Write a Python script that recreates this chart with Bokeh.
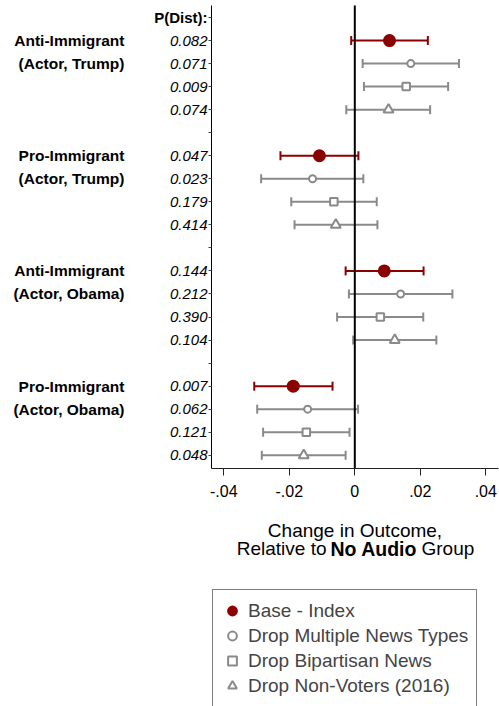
from bokeh.plotting import figure
from bokeh.models import (Range1d, FixedTicker, Label, Whisker, TeeHead,
                          ColumnDataSource, Legend, LegendItem)
from bokeh.embed import file_html
from bokeh.resources import INLINE

# ---------------- data ----------------
group_line1 = ["Anti-Immigrant", "Pro-Immigrant", "Anti-Immigrant", "Pro-Immigrant"]
group_line2 = ["(Actor, Trump)", "(Actor, Trump)", "(Actor, Obama)", "(Actor, Obama)"]
series_names = ["Base - Index", "Drop Multiple News Types",
                "Drop Bipartisan News", "Drop Non-Voters (2016)"]

# P(Dist) per group (rows) and series (columns)
p_dist = [
    ["0.082", "0.071", "0.009", "0.074"],
    ["0.047", "0.023", "0.179", "0.414"],
    ["0.144", "0.212", "0.390", "0.104"],
    ["0.007", "0.062", "0.121", "0.048"],
]

# estimates and confidence bounds per series, across the four groups
est_base = [0.0106, -0.0108, 0.0090, -0.0188]
lo_base = [-0.0011, -0.0227, -0.0028, -0.0307]
hi_base = [0.0223, 0.0011, 0.0210, -0.0068]

est_multi = [0.0171, -0.0129, 0.0140, -0.0144]
lo_multi = [0.0024, -0.0286, -0.0018, -0.0298]
hi_multi = [0.0318, 0.0026, 0.0298, 0.0010]

est_bip = [0.0157, -0.0064, 0.0078, -0.0148]
lo_bip = [0.0028, -0.0194, -0.0054, -0.0280]
hi_bip = [0.0285, 0.0067, 0.0209, -0.0016]

est_nonv = [0.0103, -0.0058, 0.0122, -0.0156]
lo_nonv = [-0.0026, -0.0184, -0.0005, -0.0284]
hi_nonv = [0.0230, 0.0069, 0.0249, -0.0028]

x_ticks = [-0.04, -0.02, 0.0, 0.02, 0.04]
x_tick_labels = ["-.04", "-.02", "0", ".02", ".04"]

# ---------------- layout / styles ----------------
FONT = "Liberation Sans"
RED = "#8b0000"
GRAY = "#8a8a8a"
series_style = [
    dict(marker="circle", size=11, fill=RED, line=RED, color=RED, lw=2),
    dict(marker="circle", size=7, fill="white", line=GRAY, color=GRAY, lw=2),
    dict(marker="square", size=7.5, fill="white", line=GRAY, color=GRAY, lw=2),
    dict(marker="triangle", size=10, fill="white", line=GRAY, color=GRAY, lw=2),
]
series_data = [(est_base, lo_base, hi_base), (est_multi, lo_multi, hi_multi),
               (est_bip, lo_bip, hi_bip), (est_nonv, lo_nonv, hi_nonv)]

n_groups = len(group_line1)
n_series = len(series_names)
row_step = n_series + 1
n_rows = n_groups * row_step  # rows 0..19, row 0 is the header row

W, H = 499, 706
# pixel geometry of the plotting area
PX_ZERO = 354.3          # pixel column of x = 0
PX_PER_X = 3275.0        # pixels per unit of x
PY_ROW0 = 17.0           # pixel row of header row
PY_PER_ROW = 23.04       # pixels per row
AX_LEFT, AX_RIGHT, AX_TOP, AX_BOTTOM = 211, 498, 5, 468


def xd(px):
    return (px - PX_ZERO) / PX_PER_X


def yd(py):
    return (py - PY_ROW0) / PY_PER_ROW


p = figure(width=W, height=H,
           x_range=Range1d(xd(0), xd(W)), y_range=Range1d(yd(H), yd(0)),
           output_backend="svg", toolbar_location=None, min_border=0)
p.xgrid.visible = False
p.ygrid.visible = False
p.outline_line_color = None
p.background_fill_color = "white"
p.border_fill_color = "white"

# x axis
p.xaxis.fixed_location = yd(AX_BOTTOM)
p.xaxis.bounds = (xd(AX_LEFT), xd(AX_RIGHT))
p.xaxis.ticker = FixedTicker(ticks=x_ticks)
p.xaxis.major_label_overrides = {t: l for t, l in zip(x_ticks, x_tick_labels)}
p.xaxis.major_label_text_font = FONT
p.xaxis.major_label_text_font_size = "16px"
p.xaxis.major_label_text_color = "black"
p.xaxis.major_tick_out = 7
p.xaxis.major_tick_in = 0
p.xaxis.minor_tick_out = 0
p.xaxis.minor_tick_in = 0
p.xaxis.major_label_standoff = 9
p.xaxis.axis_line_color = "#222222"
p.xaxis.major_tick_line_color = "#222222"

# y axis with the P(Dist) values
row_ticks = list(range(n_rows))
overrides = {r: "" for r in row_ticks}
for g in range(n_groups):
    for s in range(n_series):
        overrides[1 + g * row_step + s] = p_dist[g][s]
p.yaxis.fixed_location = xd(AX_LEFT)
p.yaxis.bounds = (yd(AX_TOP), yd(AX_BOTTOM))
p.yaxis.ticker = FixedTicker(ticks=row_ticks)
p.yaxis.major_label_overrides = overrides
p.yaxis.major_label_text_font = FONT
p.yaxis.major_label_text_font_size = "15px"
p.yaxis.major_label_text_font_style = "italic"
p.yaxis.major_label_text_color = "black"
p.yaxis.major_tick_out = 3
p.yaxis.major_tick_in = 0
p.yaxis.minor_tick_out = 0
p.yaxis.minor_tick_in = 0
p.yaxis.major_label_standoff = 1
p.yaxis.axis_line_color = "black"
p.yaxis.major_tick_line_color = "#444444"

# zero reference line, spanning the plotting area only
p.segment(x0=[0.0], y0=[yd(AX_TOP)], x1=[0.0], y1=[yd(AX_BOTTOM)],
          line_color="black", line_width=2)

legend_items = []
for s in range(n_series):
    est, lo, hi = series_data[s]
    st = series_style[s]
    rows = [1 + g * row_step + s for g in range(n_groups)]
    src = ColumnDataSource(dict(y=rows, est=est, lo=lo, hi=hi))
    w = Whisker(source=src, base="y", lower="lo", upper="hi", dimension="width",
                line_color=st["color"], line_width=2,
                lower_head=TeeHead(size=9, line_color=st["color"], line_width=2),
                upper_head=TeeHead(size=9, line_color=st["color"], line_width=2))
    p.add_layout(w)
    r = p.scatter(x="est", y="y", source=src, marker=st["marker"], size=st["size"],
                  fill_color=st["fill"], line_color=st["line"], line_width=st["lw"])
    legend_items.append(LegendItem(label=series_names[s], renderers=[r]))

# header and group labels on the left
p.add_layout(Label(x=207, y=0, x_units="screen", y_units="data", text="P(Dist):",
                   text_align="right", text_baseline="middle", text_font=FONT,
                   text_font_size="15px", text_font_style="bold", text_color="black"))
for g in range(n_groups):
    for k, txt in enumerate([group_line1[g], group_line2[g]]):
        p.add_layout(Label(x=124, y=1 + g * row_step + k, x_units="screen", y_units="data",
                           text=txt, text_align="right", text_baseline="middle",
                           text_font=FONT, text_font_size="15.5px",
                           text_font_style="bold", text_color="black"))

# x axis title (two lines, partly bold); screen y counted up from the bottom edge
p.add_layout(Label(x=354.5, y=H - 530, x_units="screen", y_units="screen",
                   text="Change in Outcome,", text_align="center", text_baseline="middle",
                   text_font=FONT, text_font_size="19px", text_color="black"))
p.add_layout(Label(x=326, y=H - 548, x_units="screen", y_units="screen",
                   text="Relative to", text_align="right", text_baseline="middle",
                   text_font=FONT, text_font_size="19px", text_color="black"))
p.add_layout(Label(x=330, y=H - 548, x_units="screen", y_units="screen",
                   text="No Audio", text_align="left", text_baseline="middle",
                   text_font=FONT, text_font_size="19.5px", text_font_style="bold",
                   text_color="black"))
p.add_layout(Label(x=421, y=H - 548, x_units="screen", y_units="screen",
                   text="Group", text_align="left", text_baseline="middle",
                   text_font=FONT, text_font_size="19px", text_color="black"))

legend = Legend(items=legend_items, location=(212, -1), margin=0,
                label_text_font=FONT, label_text_font_size="19px",
                glyph_width=22, glyph_height=25, label_height=25, spacing=0,
                padding=8, label_standoff=5, border_line_color="black",
                border_line_width=1, background_fill_alpha=1.0)
p.add_layout(legend)

open("out.html", "w").write(file_html(p, INLINE))
